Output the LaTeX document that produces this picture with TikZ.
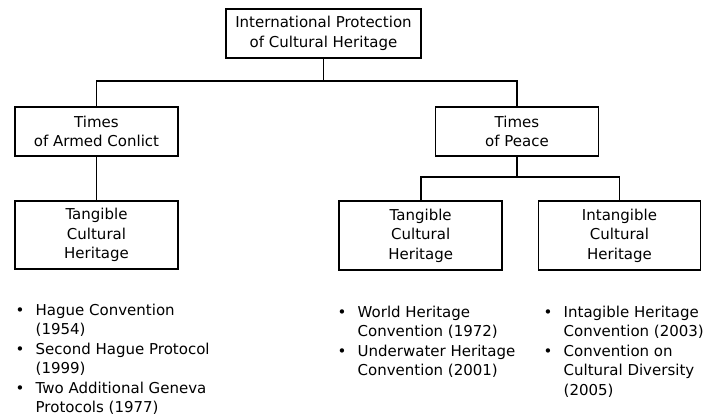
\documentclass[tikz,border=0pt]{standalone}
\usepackage{fontspec}
\setmainfont{DejaVu Sans}
\begin{document}
\begin{tikzpicture}[x=1pt,y=-1pt,
  box/.style={draw=black, line width=1.8pt, inner sep=0pt, align=center,
    font=\fontsize{15}{19.5}\selectfont},
  conn/.style={draw=black, line width=1.8pt},
  blist/.style={anchor=base west, inner sep=0pt, font=\fontsize{15}{19.5}\selectfont}
]
\useasboundingbox (0,0) rectangle (710,416);
\newcommand{\bul}{\makebox[21pt][l]{\hspace{1pt}\textbullet}}
% boxes
\node[box, minimum width=195pt, minimum height=49pt] (top) at (323.5,33.5)
  {International Protection\\of Cultural Heritage};
\node[box, minimum width=163pt, minimum height=49pt] (armed) at (96.5,131.5)
  {Times\\of Armed Conlict};
\node[box, minimum width=163pt, minimum height=68pt] (tang1) at (96.5,235)
  {Tangible\\Cultural\\Heritage};
\node[box, minimum width=163pt, minimum height=49pt] (peace) at (517,131.5)
  {Times\\of Peace};
\node[box, minimum width=163pt, minimum height=69pt] (tang2) at (420.7,235.5)
  {Tangible\\Cultural\\Heritage};
\node[box, minimum width=162pt, minimum height=69pt] (intang) at (619.5,235.5)
  {Intangible\\Cultural\\Heritage};
% connectors
\coordinate (bus1) at (323.5,81);
\coordinate (bus2) at (517,177);
\draw[conn] (top.south) -- (bus1);
\draw[conn] (bus1) -| (armed.north);
\draw[conn] (bus1) -| (peace.north);
\draw[conn] (armed.south) -- (tang1.north);
\draw[conn] (peace.south) -- (bus2);
\draw[conn] (bus2) -| (tang2.north);
\draw[conn] (bus2) -| (intang.north);
% lists
\node[blist] (list1) at (14.5,315) {\begin{tabular}[t]{@{}l@{}l@{}}
\bul & Hague Convention\\
 & (1954)\\
\bul & Second Hague Protocol\\
 & (1999)\\
\bul & Two Additional Geneva\\
 & Protocols (1977)
\end{tabular}};
\node[blist] (list2) at (336.5,317) {\begin{tabular}[t]{@{}l@{}l@{}}
\bul & World Heritage\\
 & Convention (1972)\\
\bul & Underwater Heritage\\
 & Convention (2001)
\end{tabular}};
\node[blist] (list3) at (542.5,317) {\begin{tabular}[t]{@{}l@{}l@{}}
\bul & Intagible Heritage\\
 & Convention (2003)\\
\bul & Convention on\\
 & Cultural Diversity\\
 & (2005)
\end{tabular}};
\end{tikzpicture}
\end{document}
